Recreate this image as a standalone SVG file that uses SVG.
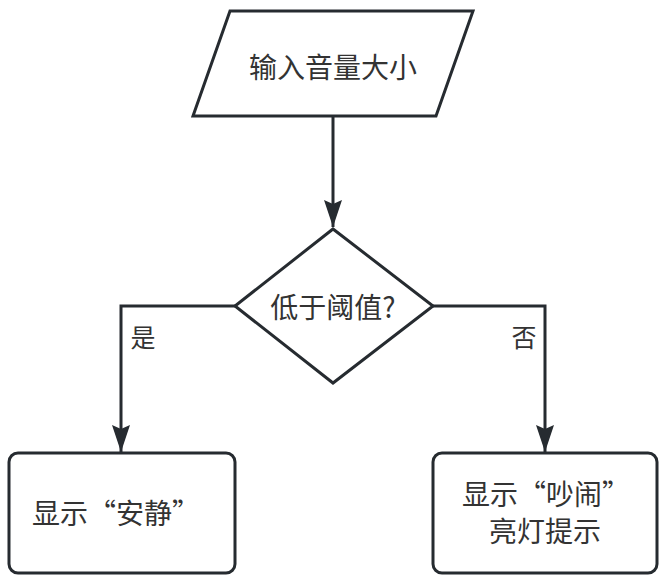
<svg xmlns="http://www.w3.org/2000/svg" width="666" height="588" viewBox="0 0 666 588">
<defs>
<style>
.shape{fill:#fff;stroke:#262b30;stroke-width:3}
.edge{fill:none;stroke:#262b30;stroke-width:3}
.t{font-family:"Microsoft YaHei","Noto Sans CJK SC","Noto Sans",sans-serif;fill:#333;font-size:28px;text-anchor:middle;dominant-baseline:central}
.lbl{font-size:25px}
</style>
<marker id="arr" markerWidth="27" markerHeight="18" refX="27" refY="9" orient="auto" markerUnits="userSpaceOnUse" viewBox="0 0 27 18">
<path d="M0,0 L4,9 L0,18 L27,9 Z" fill="#262b30" transform="rotate(0)"/>
</marker>
</defs>
<rect width="666" height="588" fill="#fff"/>
<g id="connectors">
<path class="edge" d="M333,116 L333,227" marker-end="url(#arr)"/>
<path class="edge" d="M235,306 L121,306 L121,452" marker-end="url(#arr)"/>
<path class="edge" d="M433,306 L545,306 L545,452" marker-end="url(#arr)"/>
<text class="t lbl" x="143" y="336">是</text>
<text class="t lbl" x="524" y="336">否</text>
</g>
<g id="input">
<polygon class="shape" points="230,11 473,11 436,116 193,116"/>
<text class="t" x="333" y="66">输入音量大小</text>
</g>
<g id="decision">
<polygon class="shape" points="333,229 433,306 333,383 235,306"/>
<text class="t" x="333" y="306">低于阈值?</text>
</g>
<g id="quiet">
<rect class="shape" x="9" y="453" width="226" height="120" rx="9"/>
<text class="t" x="116" y="512">显示“安静”</text>
</g>
<g id="noisy">
<rect class="shape" x="433" y="453" width="224" height="120" rx="9"/>
<text class="t" x="546" y="493">显示“吵闹”</text>
<text class="t" x="545" y="530">亮灯提示</text>
</g>
</svg>
